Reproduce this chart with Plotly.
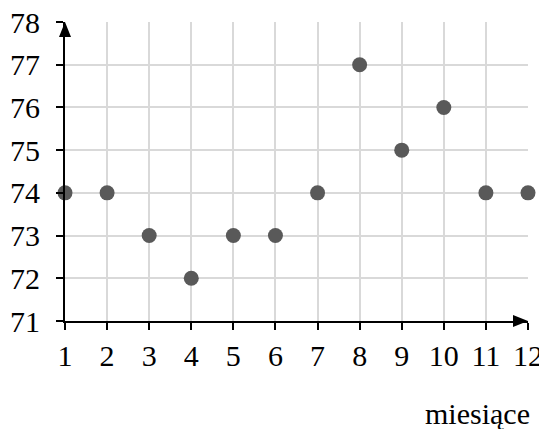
import plotly.graph_objects as go

months = [1, 2, 3, 4, 5, 6, 7, 8, 9, 10, 11, 12]
values = [74, 74, 73, 72, 73, 73, 74, 77, 75, 76, 74, 74]
x_ticks = list(range(1, 13))
y_ticks = list(range(71, 79))
x_title = "miesiące"

FONT = dict(family="Liberation Serif, Times New Roman, serif", size=30, color="black")

fig = go.Figure()
fig.add_trace(go.Scatter(
    x=months, y=values, mode="markers",
    marker=dict(size=15, color="#595959"),
    cliponaxis=False, showlegend=False,
))

fig.update_layout(
    template="none",
    width=539, height=421,
    margin=dict(l=57, r=19, t=14, b=108, autoexpand=False),
    plot_bgcolor="white", paper_bgcolor="white",
    font=FONT,
    xaxis=dict(
        range=[1, 12], tickvals=x_ticks, ticktext=[str(v) for v in x_ticks],
        showgrid=True, gridcolor="#d9d9d9", gridwidth=2,
        showline=True, linecolor="black", linewidth=2,
        ticks="outside", ticklen=7, tickwidth=2, tickcolor="black",
        zeroline=False, tickfont=FONT, automargin=False,
        ticklabeloverflow="allow",
    ),
    yaxis=dict(
        range=[71, 78], tickvals=y_ticks, ticktext=[str(v) for v in y_ticks],
        showgrid=True, gridcolor="#d9d9d9", gridwidth=2,
        showline=True, linecolor="black", linewidth=2,
        ticks="outside", ticklen=7, tickwidth=2, tickcolor="black",
        zeroline=False, tickfont=FONT, automargin=False,
        ticklabeloverflow="allow", ticklabelstandoff=10,
    ),
)

# axis arrowheads
fig.add_shape(type="path", xref="paper", yref="paper",
              xsizemode="pixel", ysizemode="pixel", xanchor=0, yanchor=1,
              path="M-6,-15 L6,-15 L0,0 Z", fillcolor="black", line=dict(width=0))
fig.add_shape(type="path", xref="paper", yref="paper",
              xsizemode="pixel", ysizemode="pixel", xanchor=1, yanchor=0,
              path="M-15,-6 L-15,6 L0,0 Z", fillcolor="black", line=dict(width=0))

fig.add_annotation(text=x_title, xref="paper", yref="paper", x=1, y=-0.31,
                   xanchor="right", yanchor="middle", xshift=4, showarrow=False, font=FONT)

fig.write_html("out.html")
